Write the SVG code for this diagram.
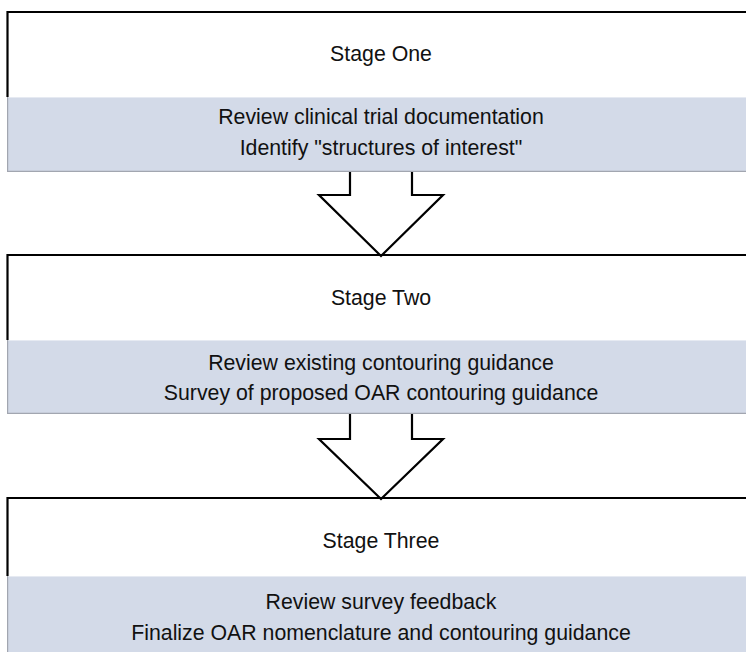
<svg xmlns="http://www.w3.org/2000/svg" width="746" height="652" viewBox="0 0 746 652">
  <style>
    .frame { fill: none; stroke: #000; stroke-width: 2.2; }
    .band { fill: #D3DAE8; }
    .band-edge { fill: none; stroke: #A2A6B0; stroke-width: 1.2; }
    .band-top { stroke: #E6EAF2; stroke-width: 1; }
    .arrow { fill: #fff; stroke: #000; stroke-width: 2.2; stroke-linejoin: miter; }
    text { font-family: "Liberation Sans", Arial, sans-serif; font-size: 21.3px; fill: #111; text-anchor: middle; }
  </style>
  <rect width="746" height="652" fill="#fff"/>

  <!-- connectors: block arrows between stages -->
  <g id="connectors">
    <polygon class="arrow" points="350,170 412,170 412,195 443,195 381,256 319,195 350,195"/>
    <polygon class="arrow" points="350,412 412,412 412,439 443,439 381,499 319,439 350,439"/>
  </g>

  <g id="stage-one">
    <path class="frame" d="M7.5,97 V12 H746"/>
    <rect class="band" x="7" y="97" width="739" height="75"/>
    <line class="band-top" x1="8" y1="97.5" x2="746" y2="97.5"/>
    <path class="band-edge" d="M7.6,97 V171.4 H746"/>
    <text x="381" y="61">Stage One</text>
    <text x="381" y="124">Review clinical trial documentation</text>
    <text x="381" y="155">Identify "structures of interest"</text>
  </g>

  <g id="stage-two">
    <path class="frame" d="M7.5,340 V255 H746"/>
    <rect class="band" x="7" y="340" width="739" height="74"/>
    <line class="band-top" x1="8" y1="340.5" x2="746" y2="340.5"/>
    <path class="band-edge" d="M7.6,340 V413.4 H746"/>
    <text x="381" y="305">Stage Two</text>
    <text x="381" y="370">Review existing contouring guidance</text>
    <text x="381" y="400">Survey of proposed OAR contouring guidance</text>
  </g>

  <g id="stage-three">
    <path class="frame" d="M7.5,576 V498 H746"/>
    <rect class="band" x="7" y="576" width="739" height="76"/>
    <line class="band-top" x1="8" y1="576.5" x2="746" y2="576.5"/>
    <path class="band-edge" d="M7.6,576 V652"/>
    <text x="381" y="548">Stage Three</text>
    <text x="381" y="609">Review survey feedback</text>
    <text x="381" y="640">Finalize OAR nomenclature and contouring guidance</text>
  </g>
</svg>
